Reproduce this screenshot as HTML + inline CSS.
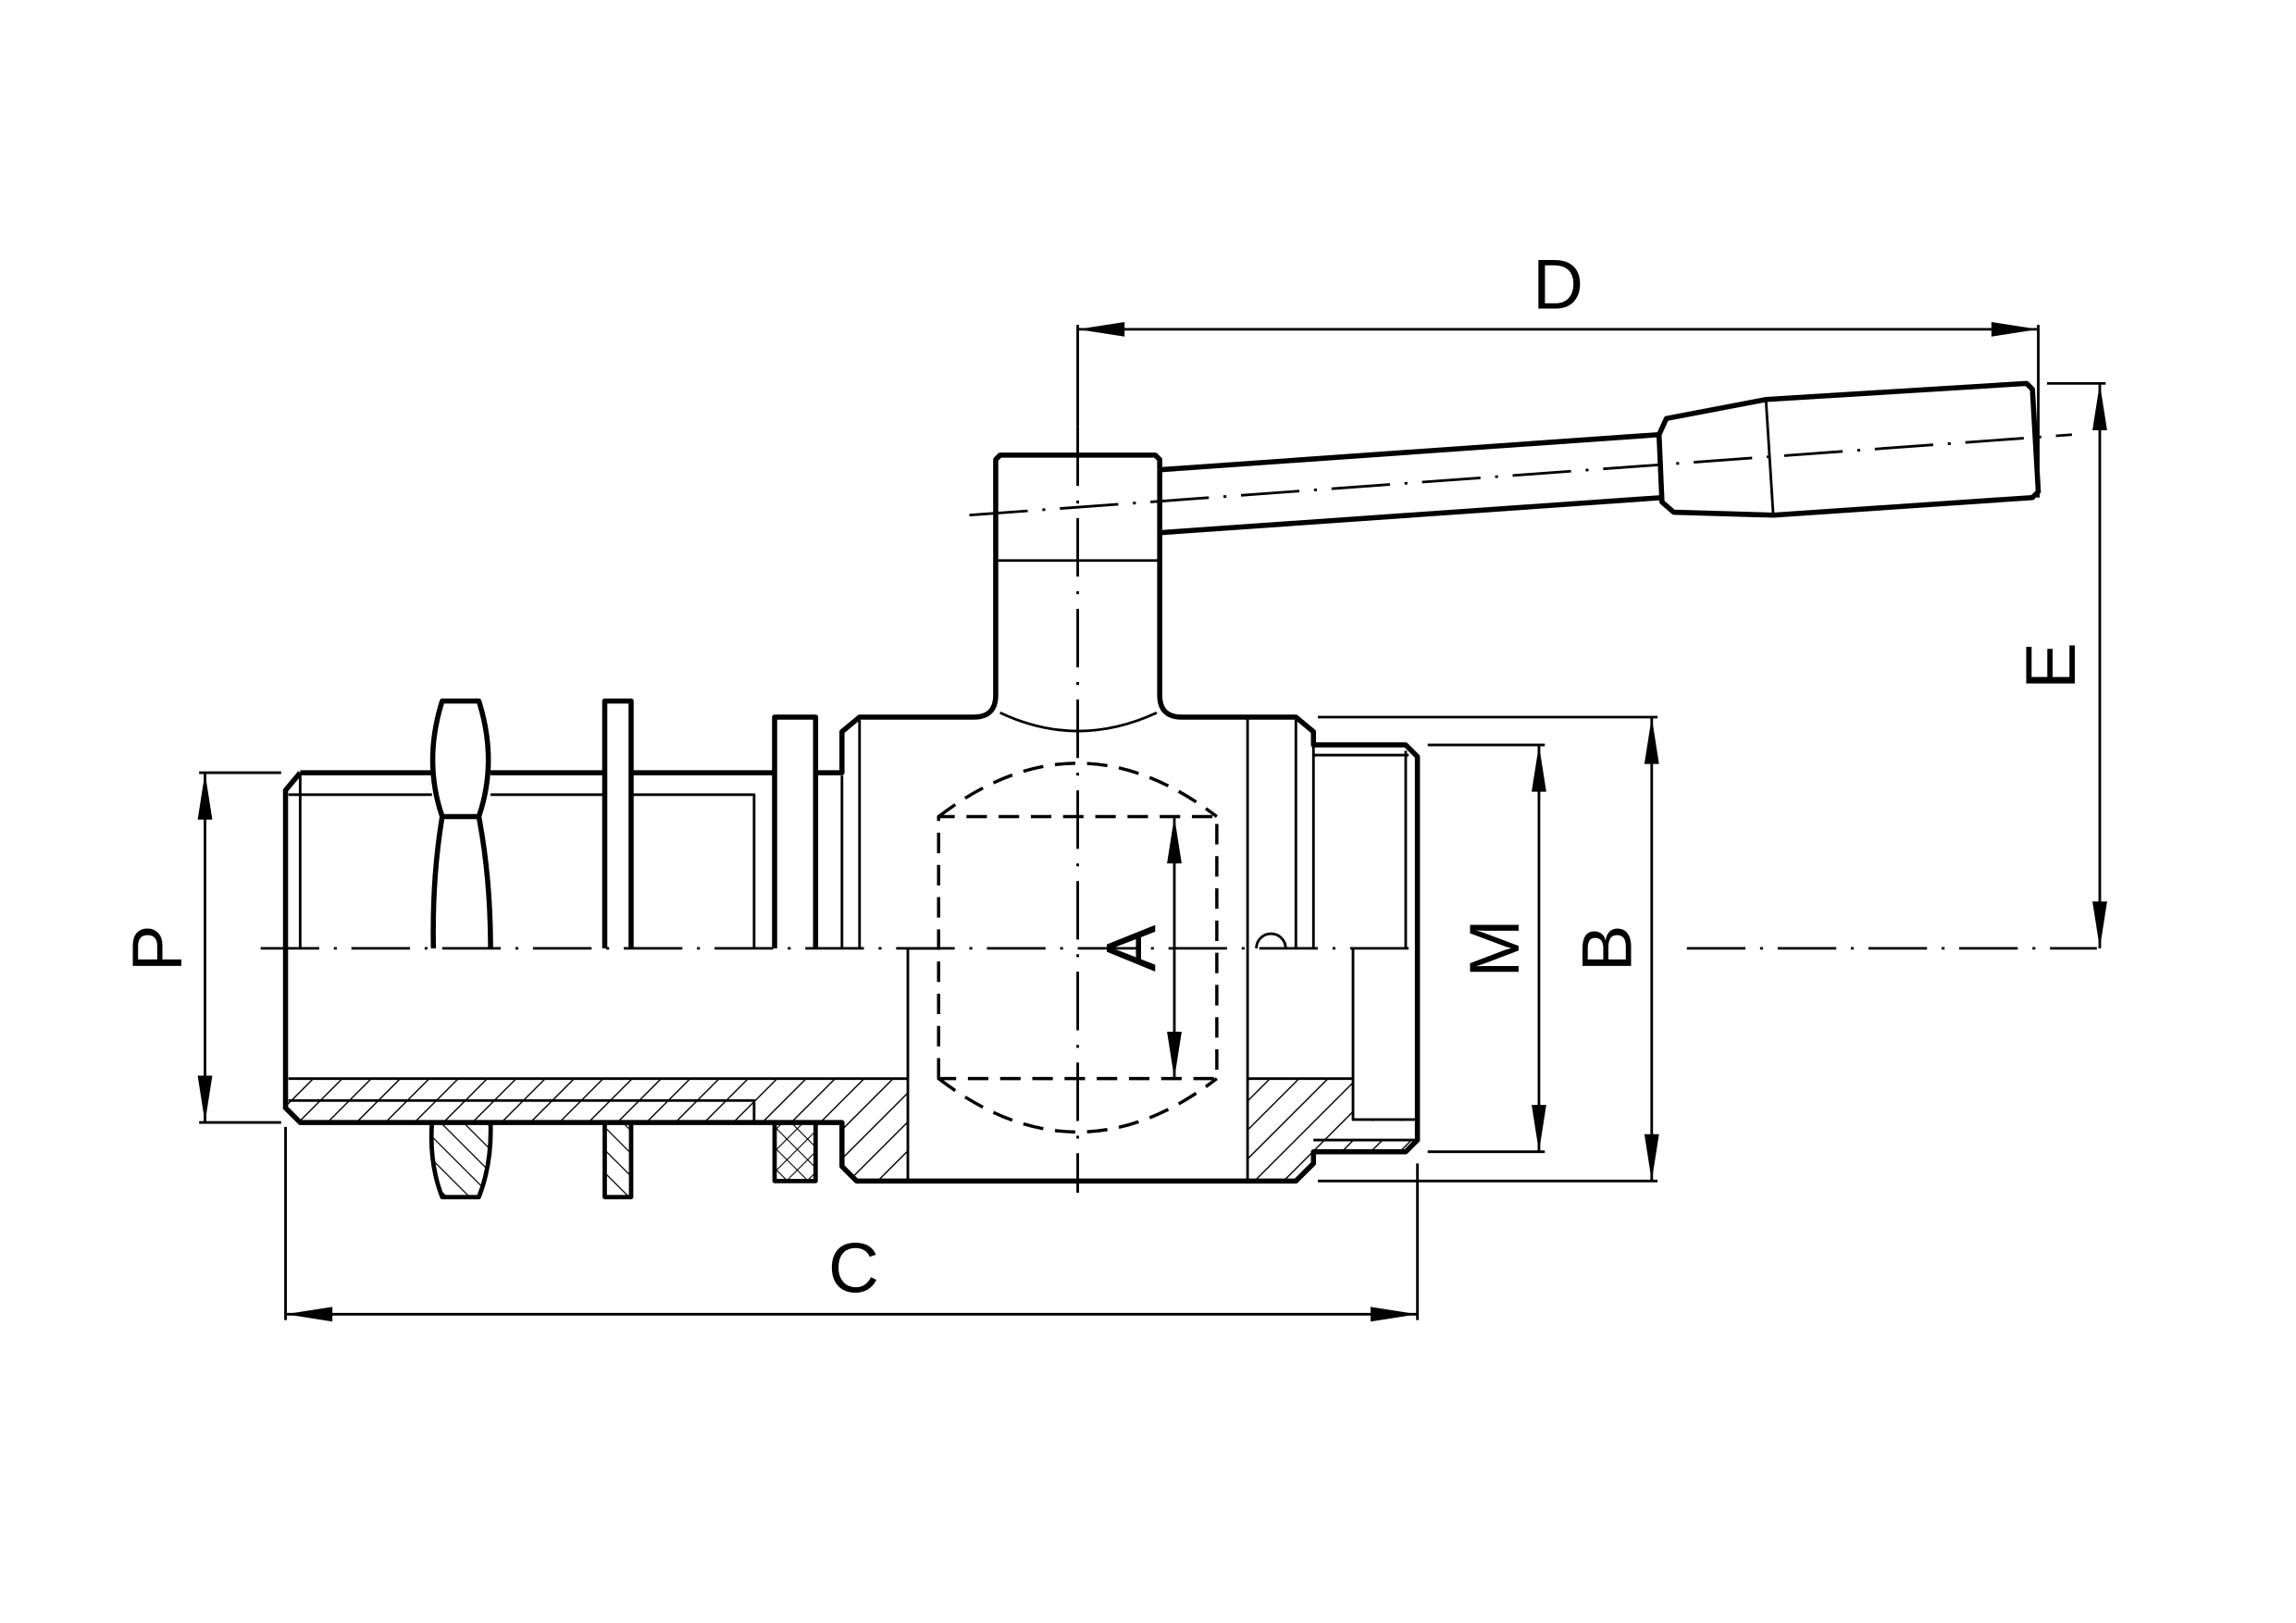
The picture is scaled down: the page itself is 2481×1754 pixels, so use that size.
<!DOCTYPE html>
<html><head><meta charset="utf-8"><style>html,body{margin:0;padding:0;background:#fff}svg{display:block}</style></head><body>
<svg width="2481" height="1754" viewBox="0 0 1568 1109" preserveAspectRatio="none" xmlns="http://www.w3.org/2000/svg">
<defs>
<pattern id="h1" patternUnits="userSpaceOnUse" width="14" height="14" patternTransform="rotate(45)"><line x1="0" y1="0" x2="0" y2="14" stroke="#000" stroke-width="1.8"/></pattern>
<pattern id="h2" patternUnits="userSpaceOnUse" width="11" height="11" patternTransform="rotate(-45)"><line x1="0" y1="0" x2="0" y2="11" stroke="#000" stroke-width="1.6"/></pattern>
<pattern id="h3" patternUnits="userSpaceOnUse" width="10" height="10" patternTransform="rotate(45)"><line x1="0" y1="0" x2="0" y2="10" stroke="#000" stroke-width="1.4"/><line x1="0" y1="0" x2="10" y2="0" stroke="#000" stroke-width="1.4"/></pattern>
</defs>
<rect width="1568" height="1109" fill="#fff"/>
<g fill="none" stroke="#000" stroke-linejoin="round">
<path d="M195,737 H620 V807 H585 L575,797 V767 H205 L195,757 Z" fill="url(#h1)" stroke="none"/>
<path d="M852,737 H924 V765 H968 V779 L960,787 H897 V795 L885,807 H852 Z" fill="url(#h1)" stroke="none"/>
<path d="M295,767 Q293,795 302,818 H327 Q336,795 335,767 Z" fill="url(#h2)" stroke-width="3"/>
<path d="M413,767 V818 H431 V767" fill="url(#h2)" stroke-width="3"/>
<rect x="529" y="767" width="28" height="40" fill="url(#h3)" stroke-width="3"/>
<rect x="924" y="766" width="44" height="13" fill="#fff" stroke="none"/>
<g stroke-width="3.5">
<path d="M205,528 H295 M335,528 H413 M431,528 H529 M557,528 H575 V500 L587,490 H665 Q680,490 680,475 V314 L683,311 H789 L792,314 V321 M792,364 V475 Q792,490 807,490 H885 L897,500 V509 H960 L968,517 V779 L960,787 H897 V795 L885,807 H585 L575,797 V767 H205 L195,757 V540 L205,528"/>
<path d="M792,321 L1133,297 L1138,286 L1206,273 L1384,262 L1388,266 L1392,336 L1388,340 L1211,352 L1143,350 L1135,343 L1133,297 M1135,340 L792,364 V321"/>
<path d="M302,479 H327 Q340,520 327,558 H302 Q289,520 302,479 Z"/>
<path d="M302,558 Q295,600 296,648 M327,558 Q335,600 335,648"/>
<path d="M413,648 V479 H431 V648"/>
<path d="M529,648 V490 H557 V648"/>
</g>
<g stroke-width="1.8">
<path d="M197,543 H295 M335,543 H413 M431,543 H515 V648 M205,528 V648"/>
<path d="M197,737 H620 M197,752 H515 V767 M620,648 V807 M587,492 V648 M575,530 V648"/>
<path d="M680,383 H792 M683,487 Q736,512 790,487"/>
<path d="M852,490 V807 M885,492 V648 M852,737 H924 M897,516 H962 M897,509 V648 M960,513 V648 M924,648 V765 H968 M897,779 H968"/>
<path d="M858,648 A10,10 0 0 1 878,648"/>
<path d="M1206,273 L1211,352"/>
<path d="M620,648 H641"/>
</g>
<g stroke-width="2.2" stroke-dasharray="14,8">
<path d="M641,737 V558 H831 V737 Z"/>
<path d="M641,558 Q736,485 831,558 M641,737 Q736,810 831,737"/>
</g>
<g stroke-width="1.8" stroke-dasharray="40,10,2,10">
<path d="M178,648 H970"/>
<path d="M1152,648 H1432"/>
<path d="M736,292 V815"/>
<path d="M662,352 L1415,297"/>
</g>
<g stroke-width="1.8">
<path d="M736,222 V292 M736,225 H1392 M1392,222 V340"/>
<path d="M1398,262 H1438 M1434,262 V648"/>
<path d="M900,490 H1132 M900,807 H1132 M1128,490 V807"/>
<path d="M975,509 H1055 M975,787 H1055 M1051,509 V787"/>
<path d="M802,558 V737"/>
<path d="M136,528 H192 M136,767 H192 M140,528 V767"/>
<path d="M195,770 V902 M968,795 V902 M195,898 H968"/>
</g>
</g>
<g fill="#000">
<path d="M736,225 L768,220 L768,230 Z"/><path d="M1392,225 L1360,220 L1360,230 Z"/>
<path d="M1434,262 L1429,294 L1439,294 Z"/><path d="M1434,648 L1429,616 L1439,616 Z"/>
<path d="M1128,490 L1123,522 L1133,522 Z"/><path d="M1128,807 L1123,775 L1133,775 Z"/>
<path d="M1051,509 L1046,541 L1056,541 Z"/><path d="M1051,787 L1046,755 L1056,755 Z"/>
<path d="M802,558 L797,590 L807,590 Z"/><path d="M802,737 L797,705 L807,705 Z"/>
<path d="M140,528 L135,560 L145,560 Z"/><path d="M140,767 L135,735 L145,735 Z"/>
<path d="M195,898 L227,893 L227,903 Z"/><path d="M968,898 L936,893 L936,903 Z"/>
</g>
<g font-family="Liberation Sans, sans-serif" font-size="48" fill="#000" text-anchor="middle">
<text x="1064" y="211">D</text>
<text x="583" y="883">C</text>
<text transform="translate(1417,455) rotate(-90)">E</text>
<text transform="translate(1114,648) rotate(-90)">B</text>
<text transform="translate(1037,648) rotate(-90)">M</text>
<text transform="translate(789,648) rotate(-90)">A</text>
<text transform="translate(124,648) rotate(-90)">P</text>
</g>
</svg>
</body></html>
